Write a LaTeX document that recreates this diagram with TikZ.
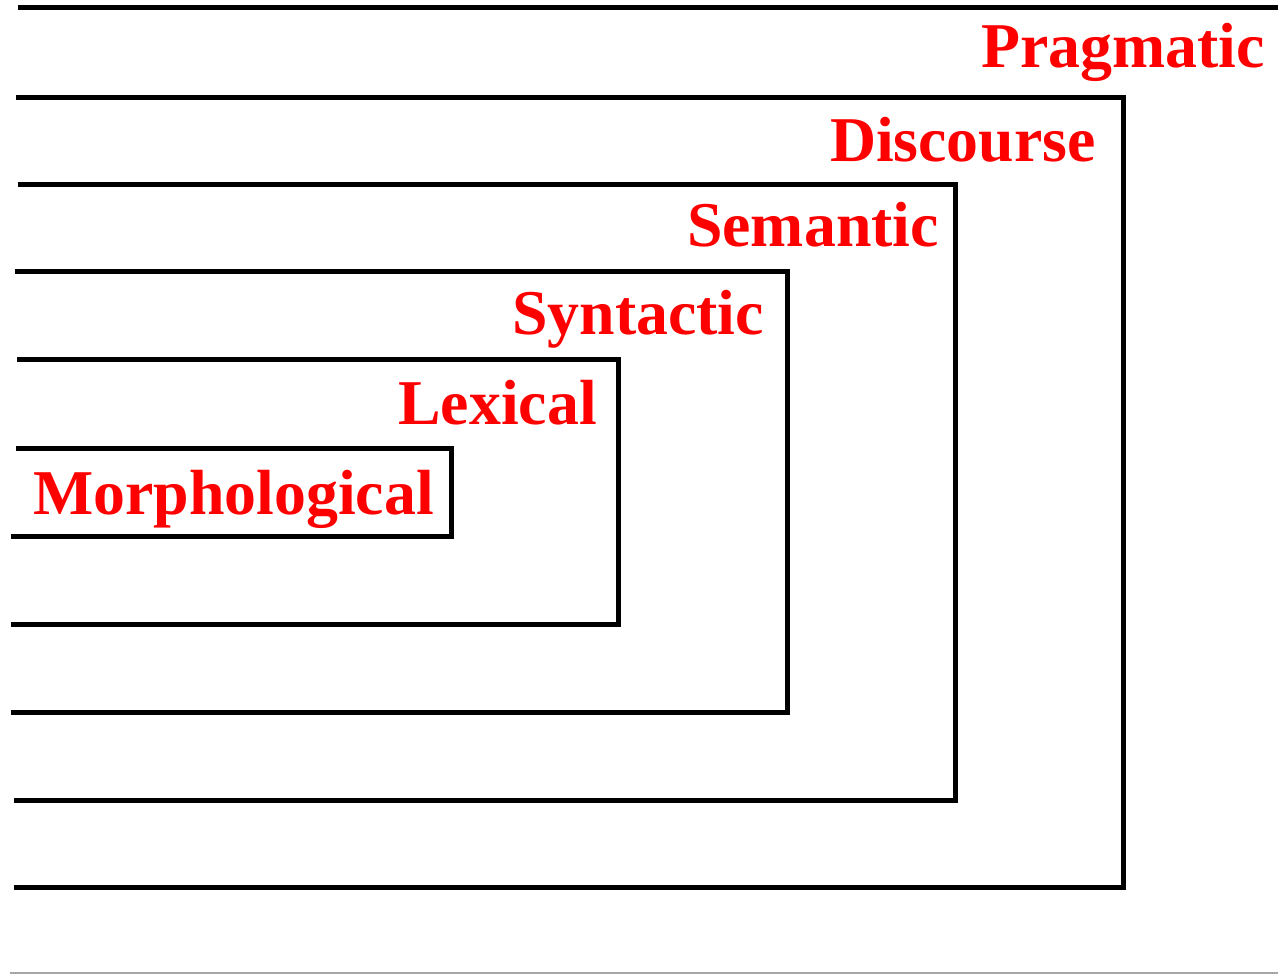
\documentclass[tikz,border=0pt]{standalone}
\usepackage{fontspec}
\setmainfont{Liberation Serif}
\begin{document}
\begin{tikzpicture}[x=1pt,y=-1pt,
  frame/.style={line width=5pt,line cap=butt,line join=miter,black},
  lbl/.style={anchor=base east,inner sep=0pt,text=red,font=\bfseries\fontsize{63.8}{70}\selectfont}]
\useasboundingbox (0,0) rectangle (1278,974);
\clip (0,0) rectangle (1278,974);
% outermost (Pragmatic) top line
\draw[frame] (18,8) -- (1290,8);
% nested open boxes
\draw[frame] (16,98) -- (1123,98) -- (1123,887) -- (14,887);
\draw[frame] (18,184) -- (955,184) -- (955,800) -- (14,800);
\draw[frame] (15,271) -- (787,271) -- (787,712) -- (11,712);
\draw[frame] (17,359) -- (618,359) -- (618,624) -- (11,624);
\draw[frame] (16,448) -- (451,448) -- (451,536) -- (11,536);
% bottom thin line
\draw[gray!70,line width=1.5pt] (10,973) -- (1278,973);
% labels
\node[lbl] (prag) at (1265,67) {Pragmatic};
\node[lbl] (disc) at (1096,161) {Discourse};
\node[lbl] (sem) at (939,246) {Semantic};
\node[lbl] (syn) at (764,334) {Syntactic};
\node[lbl] (lex) at (597,424) {Lexical};
\node[lbl] (mor) at (434,514) {Morphological};
\end{tikzpicture}
\end{document}
